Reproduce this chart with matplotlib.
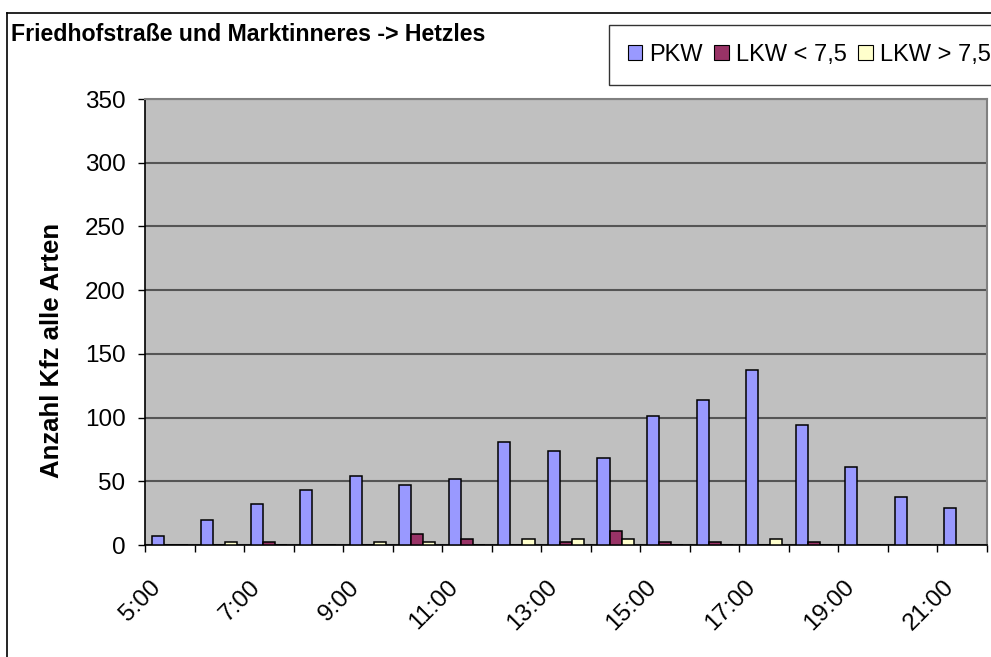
import numpy as np
import matplotlib
matplotlib.use("Agg")
import matplotlib.pyplot as plt
from matplotlib.lines import Line2D
from matplotlib.transforms import ScaledTranslation

plt.rcParams['font.family'] = ['Liberation Sans', 'DejaVu Sans']

# Daten
stunden = ["5:00", "6:00", "7:00", "8:00", "9:00", "10:00", "11:00", "12:00", "13:00",
           "14:00", "15:00", "16:00", "17:00", "18:00", "19:00", "20:00", "21:00"]
pkw = [7, 20, 32, 43, 54, 47, 52, 81, 74, 68, 101, 114, 137, 94, 61, 38, 29]
lkw_klein = [0, 0, 2, 0, 0, 9, 5, 0, 2, 11, 2, 2, 0, 2, 0, 0, 0]
lkw_gross = [0, 2, 0, 0, 2, 2, 0, 5, 5, 5, 0, 0, 5, 0, 0, 0, 0]
serien = ["PKW", "LKW < 7,5", "LKW > 7,5"]
y_ticks = [0, 50, 100, 150, 200, 250, 300, 350]

W, H = 991, 657
fig = plt.figure(figsize=(W / 100, H / 100), dpi=100)

# plot area in pixel coords
left, right, top, bottom = 145, 987, 99, 545
ax = fig.add_axes([left / W, 1 - bottom / H, (right - left) / W, (bottom - top) / H])
ax.set_facecolor("#C0C0C0")

x = np.arange(len(stunden))
bw = 0.243
farben = ["#9999FF", "#993366", "#FFFFCC"]
for i, (werte, farbe, name) in enumerate(zip([pkw, lkw_klein, lkw_gross], farben, serien)):
    ax.bar(x + (i - 1) * bw, werte, width=bw, color=farbe, edgecolor="black",
           linewidth=1.1, label=name, zorder=3)

ax.set_xlim(-0.5, len(stunden) - 0.5)
ax.set_ylim(0, 350)
ax.set_yticks(y_ticks)
ax.set_yticklabels([str(v) for v in y_ticks], fontsize=17.5)
ax.yaxis.grid(True, color="#555555", linewidth=1.5, zorder=1)
ax.set_axisbelow(True)

# x ticks: labels every second hour, tick marks at category borders
ax.set_xticks(x[::2])
ax.set_xticklabels(stunden[::2], fontsize=17.5, rotation=45, ha="right",
                   va="center", rotation_mode="anchor")
ax.set_xticks(np.arange(-0.5, len(stunden)), minor=True)
ax.tick_params(axis="x", which="major", length=0, pad=28)
ax.tick_params(axis="x", which="minor", length=5, width=1, direction="out")
ax.tick_params(axis="y", length=5, width=1, direction="out", pad=9)
shift = ScaledTranslation(-12 / 100, 0, fig.dpi_scale_trans)
for lab in ax.get_xticklabels():
    lab.set_transform(lab.get_transform() + shift)

for s in ["top", "right"]:
    ax.spines[s].set_color("#808080")
    ax.spines[s].set_linewidth(1.5)
for s in ["left", "bottom"]:
    ax.spines[s].set_color("black")
    ax.spines[s].set_linewidth(1.2)

# chart border (cut at the right and bottom edge)
fig.add_artist(Line2D([7 / W, 7 / W], [0, 1 - 13 / H], color="black", linewidth=1.2))
fig.add_artist(Line2D([7 / W, 1], [1 - 13 / H, 1 - 13 / H], color="black", linewidth=1.2))

fig.text(11 / W, 1 - 23 / H, "Friedhofstraße und Marktinneres -> Hetzles",
         fontsize=16.7, fontweight="bold", ha="left", va="top")
fig.text(52 / W, 1 - 350 / H, "Anzahl Kfz alle Arten", fontsize=18.5,
         fontweight="bold", rotation=90, ha="center", va="center")

leg = ax.legend(loc="upper left", bbox_to_anchor=(609 / W, 1 - 25 / H),
                bbox_transform=fig.transFigure, ncol=3, fontsize=17,
                frameon=True, fancybox=False, edgecolor="black",
                handlelength=0.6, handleheight=0.6, handletextpad=0.3,
                columnspacing=0.5, borderpad=0.8, borderaxespad=0)
leg.get_frame().set_linewidth(1.0)
for p in leg.get_patches():
    p.set_linewidth(0.8)

fig.savefig("out.png", dpi=100)
